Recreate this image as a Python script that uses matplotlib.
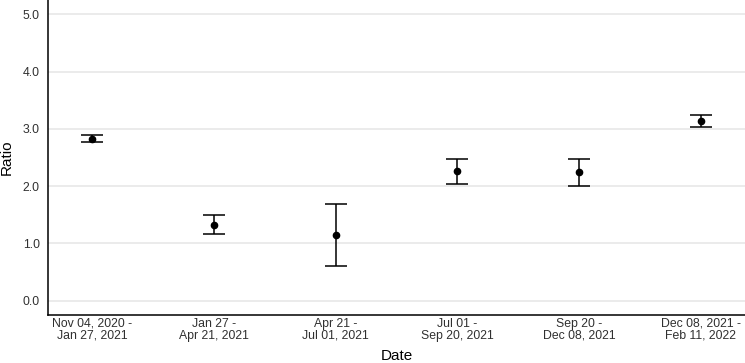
import matplotlib
matplotlib.use('Agg')
import matplotlib.pyplot as plt

periods = ['Nov 04, 2020 -\nJan 27, 2021', 'Jan 27 -\nApr 21, 2021', 'Apr 21 -\nJul 01, 2021',
           'Jul 01 -\nSep 20, 2021', 'Sep 20 -\nDec 08, 2021', 'Dec 08, 2021 -\nFeb 11, 2022']
ratio = [2.83, 1.32, 1.15, 2.26, 2.24, 3.13]
ci_low = [2.77, 1.16, 0.60, 2.03, 2.01, 3.03]
ci_high = [2.90, 1.49, 1.69, 2.47, 2.47, 3.25]
yticks = [0.0, 1.0, 2.0, 3.0, 4.0, 5.0]

plt.rcParams['font.family'] = ['Liberation Sans', 'DejaVu Sans']

fig = plt.figure(figsize=(7.45, 3.63), dpi=100)
ax = fig.add_axes([48 / 745, 1 - 315 / 363, 1 - 48 / 745, 315 / 363])

x = list(range(len(periods)))
err = [[r - lo for r, lo in zip(ratio, ci_low)], [hi - r for r, hi in zip(ratio, ci_high)]]
ax.errorbar(x, ratio, yerr=err, fmt='o', color='black', ms=4.5, elinewidth=1.1,
            capsize=8.1, capthick=1.1, zorder=3)

ax.set_xlim(-0.365, len(periods) - 1 + 0.365)
ax.set_ylim(-0.25, 5.25)
ax.set_yticks(yticks)
ax.set_yticklabels([f'{v:.1f}' for v in yticks])
ax.set_xticks(x)
ax.set_xticklabels(periods, linespacing=1.0)
ax.grid(axis='y', color='#e6e6e6', linewidth=1.1, zorder=0)
ax.set_axisbelow(True)

for s in ['top', 'right']:
    ax.spines[s].set_visible(False)
for s in ['left', 'bottom']:
    ax.spines[s].set_linewidth(1.1)
    ax.spines[s].set_color('black')

ax.tick_params(axis='both', length=0, labelsize=8.8, colors='#303030')
ax.tick_params(axis='x', pad=2)
ax.tick_params(axis='y', pad=6)
ax.set_xlabel('Date', fontsize=11, labelpad=5)
ax.set_ylabel('Ratio', fontsize=11, labelpad=6)

fig.savefig('out.png', dpi=100)
